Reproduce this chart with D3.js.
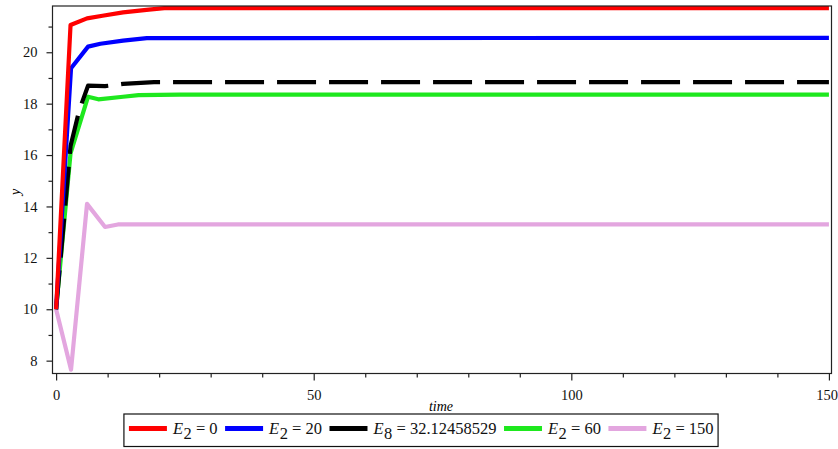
<!DOCTYPE html>
<html>
<head>
<meta charset="utf-8">
<script src="https://cdn.jsdelivr.net/npm/d3@7"></script>
<style>
  html, body { margin: 0; padding: 0; background: #fff; }
  svg { display: block; }
</style>
</head>
<body>
<svg id="chart" width="838" height="449"></svg>
<script>
// Solution curves y(time) for several parameter values
const redTime   = [0, 2.8, 6, 9, 13, 18, 21, 150];
const redY      = [10, 21.06, 21.32, 21.42, 21.55, 21.66, 21.72, 21.72];
const blueTime  = [0, 2.9, 6.2, 8.6, 13, 17.6, 150];
const blueY     = [10, 19.38, 20.22, 20.33, 20.45, 20.55, 20.56];
const blackTime = [0, 2.8, 4.5, 6.2, 9.5, 13, 19, 150];
const blackY    = [10, 16.35, 17.75, 18.7, 18.68, 18.77, 18.84, 18.84];
const greenTime = [0, 2.8, 6.2, 8.2, 13, 16, 24, 150];
const greenY    = [10, 16.07, 18.27, 18.17, 18.27, 18.33, 18.35, 18.35];
const pinkTime  = [0, 2.9, 6.0, 9.5, 12, 150];
const pinkY     = [10, 7.65, 14.1, 13.2, 13.3, 13.3];

const xTickValues = [0, 50, 100, 150];
const yTickValues = [8, 10, 12, 14, 16, 18, 20];

// Legend entries: symbol, subscript, right-hand side
const legendSym = ["E", "E", "E", "E", "E"];
const legendSub = ["2", "2", "8", "2", "2"];
const legendRhs = ["0", "20", "32.12458529", "60", "150"];

const seriesDefs = [
  { t: redTime,   y: redY,   color: "#ff0000", dash: null },
  { t: blueTime,  y: blueY,  color: "#0000ff", dash: null },
  { t: blackTime, y: blackY, color: "#000000", dash: "39,13" },
  { t: greenTime, y: greenY, color: "#1ee81e", dash: null },
  { t: pinkTime,  y: pinkY,  color: "#e3a6df", dash: null }
];

const svg = d3.select("#chart");
const serifStyle = "font-family: 'Liberation Serif', 'Times New Roman', serif;";

const plotL = 52.5, plotR = 831.5, plotT = 6, plotB = 373.5;
const x = d3.scaleLinear().domain([-0.7, 150.5]).range([plotL, plotR]);
const y = d3.scaleLinear().domain([7.5, 21.8]).range([plotB, plotT]);

// Curves, clipped to the plotting frame
svg.append("clipPath").attr("id", "plotclip")
  .append("rect").attr("x", plotL).attr("y", plotT - 3)
  .attr("width", plotR - plotL).attr("height", plotB - plotT + 3);

const line = d3.line().x(d => x(d[0])).y(d => y(d[1])).curve(d3.curveLinear);
const curves = svg.append("g").attr("clip-path", "url(#plotclip)");
// pink first so the others sit on top
[4, 3, 2, 1, 0].forEach(i => {
  const s = seriesDefs[i];
  const pts = s.t.map((t, k) => [t, s.y[k]]);
  curves.append("path")
    .attr("d", line(pts))
    .attr("fill", "none")
    .attr("stroke", s.color)
    .attr("stroke-width", 4.2)
    .attr("stroke-linejoin", "round")
    .attr("stroke-dasharray", s.dash);
});

// Frame
svg.append("rect")
  .attr("x", plotL).attr("y", plotT)
  .attr("width", plotR - plotL).attr("height", plotB - plotT)
  .attr("fill", "none").attr("stroke", "#222").attr("stroke-width", 1.2);

// X axis: minor ticks every 10, labelled majors every 50
const xMinor = d3.range(0, 151, 10).filter(v => !xTickValues.includes(v));
const xAxis = svg.append("g").attr("transform", `translate(0,${plotB})`);
xAxis.append("g")
  .call(d3.axisBottom(x).tickValues(xMinor).tickSize(4).tickFormat(""))
  .call(g => g.select(".domain").remove());
xAxis.append("g")
  .call(d3.axisBottom(x).tickValues(xTickValues).tickSize(7).tickPadding(9).tickFormat(d3.format("d")))
  .call(g => g.select(".domain").remove());
xAxis.selectAll("line").attr("stroke", "#222").attr("stroke-width", 1.2);
xAxis.selectAll("text").attr("style", serifStyle).attr("font-size", 14.5).attr("fill", "#111");
// keep the last label inside the page
xAxis.selectAll(".tick text").filter(d => d === 150)
  .attr("text-anchor", "end").attr("x", 8.5);

// Y axis: labelled even values, minor ticks at odd values
const yMinor = d3.range(9, 22, 2);
const yAxis = svg.append("g").attr("transform", `translate(${plotL},0)`);
yAxis.append("g")
  .call(d3.axisLeft(y).tickValues(yMinor).tickSize(4).tickFormat(""))
  .call(g => g.select(".domain").remove());
yAxis.append("g")
  .call(d3.axisLeft(y).tickValues(yTickValues).tickSize(6).tickPadding(9).tickFormat(d3.format("d")))
  .call(g => g.select(".domain").remove());
yAxis.selectAll("line").attr("stroke", "#222").attr("stroke-width", 1.2);
yAxis.selectAll("text").attr("style", serifStyle).attr("font-size", 14.5).attr("fill", "#111");

// Axis titles
svg.append("text")
  .attr("x", 441).attr("y", 411)
  .attr("text-anchor", "middle").attr("style", serifStyle)
  .attr("font-style", "italic").attr("font-size", 14)
  .text("time");
svg.append("text")
  .attr("transform", "translate(20,192) rotate(-90)")
  .attr("text-anchor", "middle").attr("style", serifStyle)
  .attr("font-style", "italic").attr("font-size", 14)
  .text("y");

// Legend
const legend = svg.append("g");
const lineLen = 38, gapAfterLine = 6, gapAfterText = 8, pad = 5;
const legendY = 428.5;
let cursor = 0;
seriesDefs.forEach((s, i) => {
  const g = legend.append("g");
  g.append("line")
    .attr("x1", cursor).attr("x2", cursor + lineLen)
    .attr("y1", legendY).attr("y2", legendY)
    .attr("stroke", s.color).attr("stroke-width", 5);
  const txt = g.append("text")
    .attr("x", cursor + lineLen + gapAfterLine)
    .attr("y", legendY + 5.5)
    .attr("style", serifStyle)
    .attr("font-size", 16.5).attr("fill", "#111");
  txt.append("tspan").attr("font-style", "italic").text(legendSym[i]);
  txt.append("tspan").attr("dy", 5).attr("dx", 0.5).text(legendSub[i]);
  txt.append("tspan").attr("dy", -5).text("\u00a0=\u00a0" + legendRhs[i]);
  const w = txt.node().getComputedTextLength();
  cursor += lineLen + gapAfterLine + w + gapAfterText;
});
const totalW = cursor - gapAfterText + 2 * pad;
const boxLeft = 421 - totalW / 2;
legend.attr("transform", `translate(${boxLeft + pad},0)`);
svg.insert("rect", "g")
  .attr("x", boxLeft).attr("y", 414)
  .attr("width", totalW).attr("height", 32.5)
  .attr("fill", "#fff").attr("stroke", "#111").attr("stroke-width", 1.2);
</script>
</body>
</html>
